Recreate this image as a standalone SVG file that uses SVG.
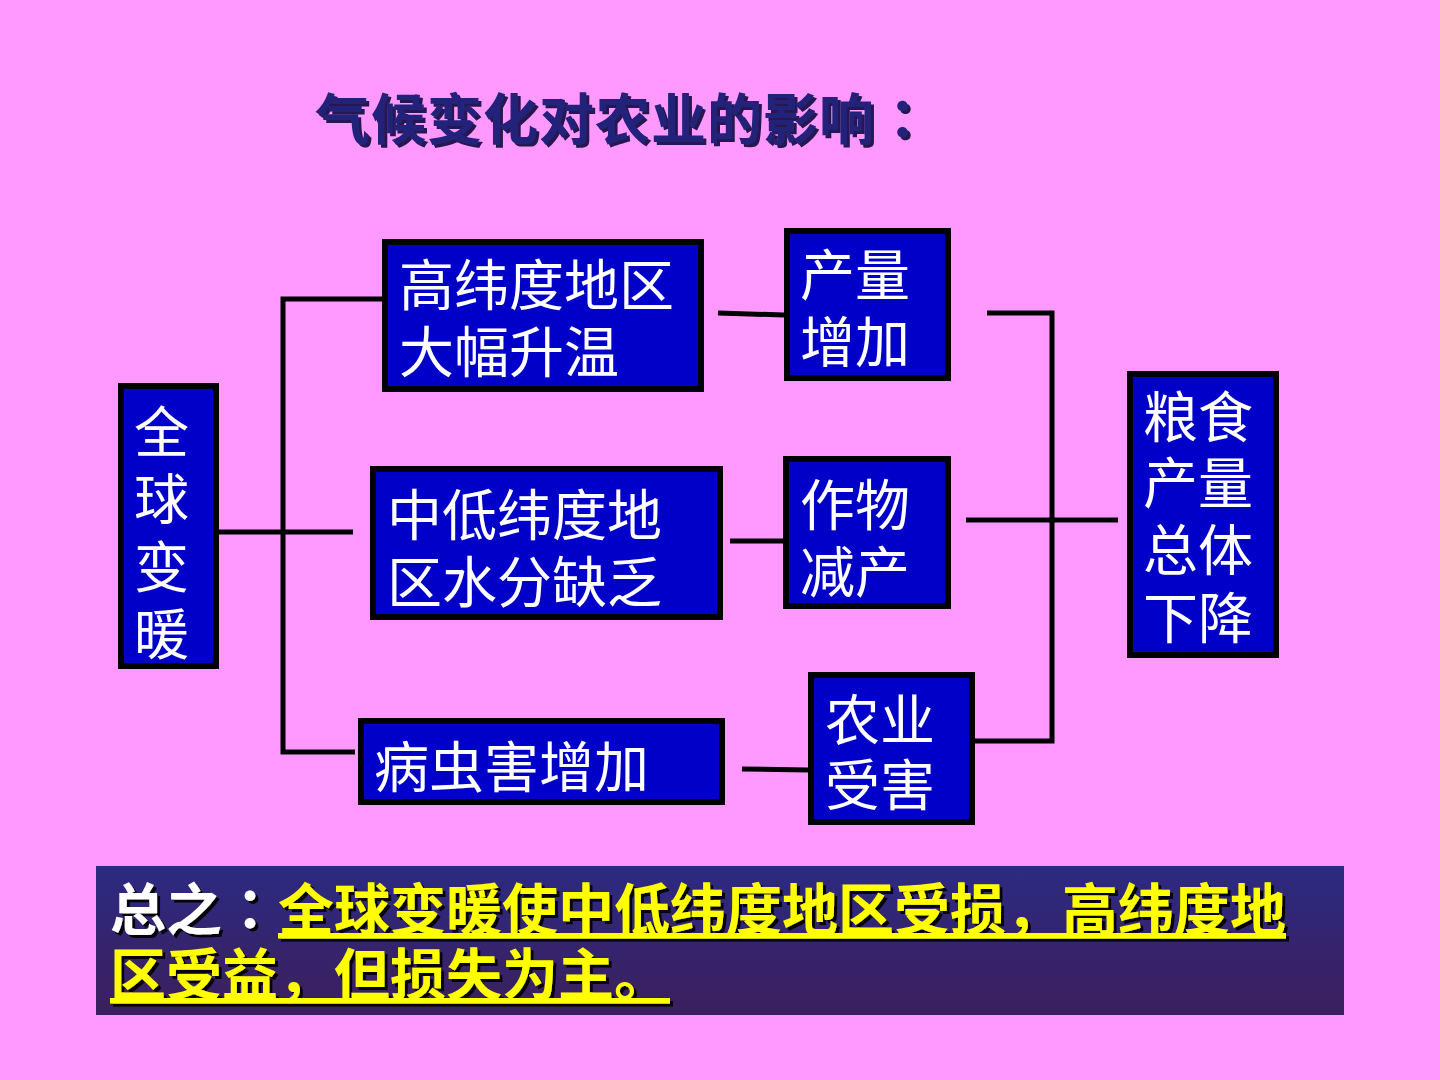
<svg xmlns="http://www.w3.org/2000/svg" width="1440" height="1080" viewBox="0 0 1440 1080">
<defs>
<linearGradient id="sumg" x1="0" y1="0" x2="0" y2="1">
<stop offset="0" stop-color="#2c2a82"/>
<stop offset="1" stop-color="#3c1f5c"/>
</linearGradient>
<filter id="tsh" x="-5%" y="-20%" width="110%" height="140%">
<feDropShadow dx="3" dy="3" stdDeviation="0.5" flood-color="#000033" flood-opacity="0.85"/>
</filter>
<filter id="ssh" x="-5%" y="-20%" width="110%" height="140%">
<feDropShadow dx="3" dy="3" stdDeviation="0.5" flood-color="#000000" flood-opacity="0.9"/>
</filter>
<style>
.box{fill:#0000c8;stroke:#000;stroke-width:6}
.bt{fill:#fff;font-family:"Noto Sans CJK SC","Noto Sans CJK JP",sans-serif;font-size:55px}
.ln{stroke:#000;stroke-width:5;fill:none}
.title{font-family:"Noto Sans CJK SC",sans-serif;font-weight:bold;font-size:55px;letter-spacing:1px;fill:#22227a}
.sum{font-family:"Noto Sans CJK SC",sans-serif;font-weight:bold;font-size:56px}
.p{font-family:"Noto Sans CJK TC",sans-serif}
</style>
</defs>
<rect width="1440" height="1080" fill="#ff99ff"/>
<g id="title" filter="url(#tsh)">
<text x="315" y="139" class="title">气候变化对农业的影响<tspan class="p">：</tspan></text>
</g>
<g id="connectors">
<polyline class="ln" points="382,299 283,299 283,752 355,752"/>
<line class="ln" x1="218" y1="532" x2="353" y2="532"/>
<line class="ln" x1="718" y1="313" x2="784" y2="315"/>
<line class="ln" x1="730" y1="541" x2="783" y2="541"/>
<line class="ln" x1="742" y1="769" x2="808" y2="770"/>
<polyline class="ln" points="987,313 1052,313 1052,741 974,741"/>
<line class="ln" x1="966" y1="520" x2="1118" y2="520"/>
</g>
<g id="n1">
<rect class="box" x="121" y="386" width="95" height="280"/>
<text class="bt" x="134" y="452">全</text>
<text class="bt" x="134" y="519">球</text>
<text class="bt" x="134" y="587">变</text>
<text class="bt" x="134" y="654">暖</text>
</g>
<g id="n2">
<rect class="box" x="385" y="242" width="316" height="147"/>
<text class="bt" x="399" y="305">高纬度地区</text>
<text class="bt" x="399" y="372">大幅升温</text>
</g>
<g id="n3">
<rect class="box" x="787" y="231" width="161" height="147"/>
<text class="bt" x="800" y="295">产量</text>
<text class="bt" x="800" y="362">增加</text>
</g>
<g id="n4">
<rect class="box" x="373" y="469" width="347" height="148"/>
<text class="bt" x="387" y="535">中低纬度地</text>
<text class="bt" x="387" y="602">区水分缺乏</text>
</g>
<g id="n5">
<rect class="box" x="786" y="459" width="162" height="147"/>
<text class="bt" x="800" y="525">作物</text>
<text class="bt" x="800" y="592">减产</text>
</g>
<g id="n6">
<rect class="box" x="361" y="721" width="361" height="81"/>
<text class="bt" x="374" y="787">病虫害增加</text>
</g>
<g id="n7">
<rect class="box" x="811" y="675" width="161" height="147"/>
<text class="bt" x="825" y="740">农业</text>
<text class="bt" x="825" y="805">受害</text>
</g>
<g id="n8">
<rect class="box" x="1130" y="374" width="146" height="281"/>
<text class="bt" x="1143" y="437">粮食</text>
<text class="bt" x="1143" y="503">产量</text>
<text class="bt" x="1143" y="570">总体</text>
<text class="bt" x="1143" y="638">下降</text>
</g>
<g id="summary">
<rect x="96" y="866" width="1248" height="149" fill="url(#sumg)"/>
<g filter="url(#ssh)">
<text class="sum" x="110" y="930" fill="#fff">总之<tspan class="p">：</tspan><tspan fill="#ffff00" text-decoration="underline">全球变暖使中低纬度地区受损，高纬度地</tspan></text>
<text class="sum" x="110" y="995" fill="#ffff00" text-decoration="underline">区受益，但损失为主。</text>
</g>
</g>
</svg>
